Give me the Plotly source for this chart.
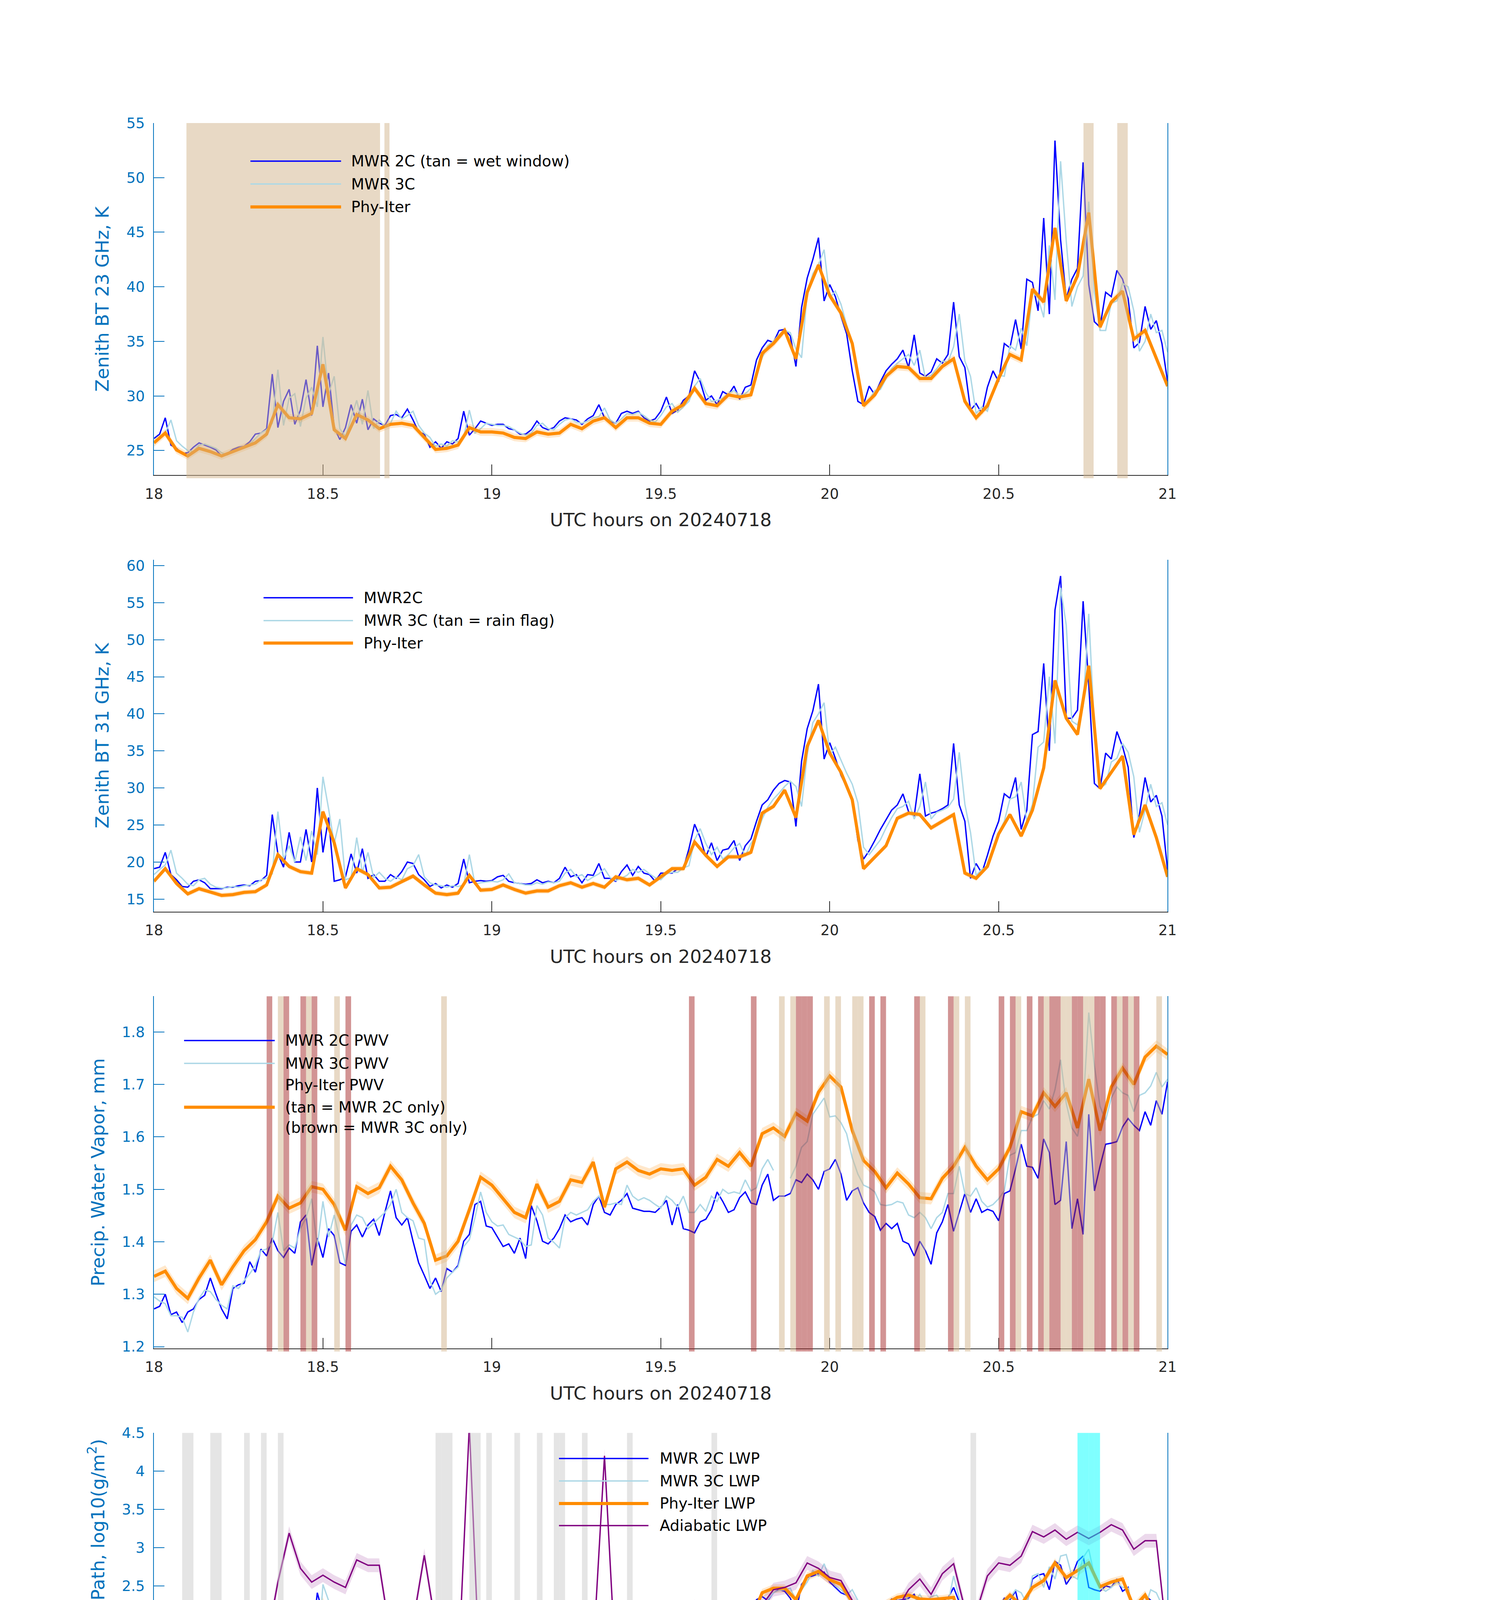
import plotly.graph_objects as go

FIG_W, FIG_H = 3825, 6000
FONT = "DejaVu Sans"
AX_BLUE = "#0072BD"
DARK = "#262626"
C2 = "#0000FF"
C3 = "#ADD8E6"
ORG = "#FF8C00"
PUR = "#800080"

# ---------------- time grids ----------------
minutes = list(range(181))
t_mwr = [18 + m / 60 for m in minutes]          # MWR samples (1 min)
t_phy = [18 + m / 60 for m in minutes[::2]]     # Phy-Iter samples (2 min)
flag_minutes = list(range(180))
t_flag = [18 + (m + 0.5) / 60 for m in flag_minutes]

x_ticks = [18, 18.5, 19, 19.5, 20, 20.5, 21]
x_ticktext = ["18", "18.5", "19", "19.5", "20", "20.5", "21"]
x_label = "UTC hours on 20240718"

# ---------------- Panel 1: 23 GHz BT ----------------
bt23_2c = [26.1, 26.5, 28.0, 25.5, 25.2, 24.7, 24.8, 25.3, 25.7, 25.5, 25.3,
           25.05, 24.5, 24.7, 25.1, 25.3, 25.4, 25.8, 26.5, 26.6, 27.0,
           32.0, 27.1, 29.5, 30.6, 27.4, 28.7, 31.5, 28.2, 34.6, 29.0,
           32.1, 27.1, 26.0, 27.1, 29.2, 27.5, 29.7, 26.9, 27.9, 27.5,
           27.3, 28.2, 28.3, 28.0, 28.8, 27.8, 26.7, 26.5, 25.3, 25.8,
           25.2, 25.8, 25.6, 26.1, 28.6, 26.4, 27.0, 27.7, 27.5, 27.3,
           27.4, 27.4, 27.0, 26.9, 26.5, 26.5, 26.9, 27.7, 27.1, 26.9,
           27.1, 27.7, 28.0, 27.9, 27.8, 27.4, 27.9, 28.2, 29.2, 28.0,
           27.7, 27.5, 28.4, 28.6, 28.4, 28.6, 28.0, 27.7, 27.9, 28.6,
           29.9, 28.4, 28.7, 29.6, 30.0, 32.3, 31.3, 29.6, 30.0, 29.2,
           30.4, 30.1, 30.9, 29.7, 30.8, 31.0, 33.3, 34.4, 35.1, 34.9,
           36.0, 36.1, 35.5, 32.7, 38.1, 40.8, 42.5, 44.5, 38.7, 40.2,
           39.1, 37.3, 35.7, 32.3, 29.5, 29.2, 30.9, 30.1, 31.3, 32.3,
           32.9, 33.4, 34.2, 32.6, 35.6, 32.1, 31.8, 32.2, 33.4, 33.0,
           33.8, 38.6, 33.6, 32.6, 28.7, 29.3, 28.4, 30.8, 32.3, 31.3,
           34.8, 34.4, 37.0, 34.3, 40.7, 40.4, 37.8, 46.3, 37.5, 53.4,
           44.3, 38.9, 40.7, 41.7, 51.4, 40.2, 36.8, 36.3, 39.5, 39.1,
           41.5, 40.7, 38.9, 34.4, 34.9, 38.2, 36.1, 36.9, 34.8, 31.3]
bt23_3c = [25.8, 26.2, 26.6, 27.8, 25.9, 25.4, 25.0, 24.9, 25.5, 25.6, 25.4,
           25.2, 24.8, 24.6, 24.9, 25.2, 25.4, 25.6, 26.1, 26.6, 26.9,
           27.5, 32.4, 27.3, 29.8, 30.2, 27.2, 29.8, 30.8, 29.0, 35.4,
           30.2, 31.8, 27.0, 26.3, 28.0, 29.6, 27.4, 30.5, 27.0, 27.8,
           27.2, 27.5, 28.6, 27.9, 28.2, 28.6, 27.3, 26.6, 26.2, 25.4,
           25.6, 25.4, 25.9, 25.8, 26.2, 28.7, 26.6, 27.0, 27.5, 27.4,
           27.3, 27.3, 27.2, 26.9, 26.6, 26.4, 26.6, 27.3, 27.5, 27.0,
           26.9, 27.4, 27.8, 27.9, 27.6, 27.5, 27.7, 28.0, 28.1, 28.9,
           27.8, 27.5, 27.9, 28.4, 28.3, 28.5, 28.2, 27.8, 27.6, 28.2,
           29.0, 29.3, 28.5, 29.0, 29.5, 30.9, 31.6, 30.3, 29.5, 29.6,
           29.8, 30.2, 30.5, 30.0, 30.2, 30.7, 32.0, 33.5, 34.6, 35.0,
           35.6, 36.0, 35.8, 34.3, 33.5, 39.5, 41.2, 42.0, 43.4, 39.0,
           39.6, 38.4, 36.5, 34.8, 31.5, 29.3, 29.6, 30.5, 30.6, 31.6,
           32.5, 33.0, 33.4, 33.8, 32.8, 34.2, 31.6, 31.9, 32.5, 33.2,
           33.1, 34.5, 37.5, 33.2, 31.8, 28.4, 29.0, 28.6, 30.5, 31.9,
           31.8, 34.6, 34.2, 36.2, 34.6, 39.5, 39.0, 37.2, 43.8, 38.8,
           51.5, 44.2, 38.2, 40.0, 41.0, 47.8, 39.5, 36.0, 36.0, 38.5,
           38.7, 40.3, 40.0, 37.8, 34.1, 35.0, 37.5, 35.8, 36.0, 34.0]
bt23_phy = [25.7, 26.6, 25.05, 24.5, 25.2, 24.9, 24.5, 24.9, 25.3, 25.7, 26.5,
            29.2, 28.0, 27.9, 28.4, 32.9, 26.9, 26.1, 28.3, 27.8, 27.0,
            27.4, 27.5, 27.3, 26.2, 25.1, 25.2, 25.5, 27.1, 26.7, 26.7,
            26.6, 26.2, 26.1, 26.7, 26.5, 26.6, 27.4, 27.0, 27.7, 28.0,
            27.1, 28.0, 28.0, 27.5, 27.4, 28.6, 29.2, 30.7, 29.3, 29.1,
            30.1, 29.9, 30.1, 33.9, 34.8, 36.0, 33.4, 39.5, 42.0, 39.2,
            37.6, 34.8, 29.1, 30.1, 31.8, 32.7, 32.6, 31.6, 31.6, 32.7,
            33.4, 29.5, 28.0, 29.1, 31.6, 33.8, 33.3, 39.8, 38.6, 45.4,
            38.7, 41.0, 46.8, 36.3, 38.6, 39.6, 35.2, 36.0, 33.4, 30.9]
bt23_phy_unc = 0.35
wet_window_start = [18.096, 18.682, 20.751, 20.851]
wet_window_end = [18.669, 18.697, 20.781, 20.882]

# ---------------- Panel 2: 31 GHz BT ----------------
bt31_2c = [19.1, 19.3, 21.3, 18.3, 17.6, 16.7, 16.6, 17.4, 17.6, 17.2, 16.4,
           16.4, 16.4, 16.6, 16.6, 16.8, 16.9, 16.8, 17.4, 17.5, 18.2,
           26.4, 21.1, 19.3, 24.0, 20.0, 20.0, 24.4, 20.0, 30.0, 21.3,
           26.0, 17.4, 17.6, 18.0, 21.1, 18.5, 21.8, 17.8, 18.3, 17.4,
           17.4, 18.3, 17.8, 18.7, 20.0, 19.8, 18.3, 17.6, 16.7, 17.1,
           16.5, 16.9, 16.6, 17.1, 20.4, 17.2, 17.4, 17.5, 17.4, 17.5,
           18.0, 18.2, 17.4, 17.2, 17.1, 17.0, 17.1, 17.6, 17.2, 17.4,
           17.2, 17.8, 19.3, 18.0, 18.3, 17.2, 18.3, 18.2, 19.8, 17.8,
           17.8, 17.4, 18.7, 19.6, 18.2, 19.4, 18.5, 18.3, 17.4, 18.5,
           18.5, 18.5, 19.1, 19.1, 21.8, 25.1, 23.3, 20.7, 22.6, 20.2,
           21.6, 21.8, 22.9, 20.2, 22.2, 23.1, 25.5, 27.7, 28.4, 29.7,
           30.6, 31.0, 30.8, 24.8, 33.6, 38.0, 40.4, 44.0, 33.9, 36.1,
           34.0, 31.7, 30.1, 28.4, 22.9, 20.4, 21.5, 22.9, 24.4, 25.7,
           27.0, 27.7, 29.2, 26.8, 26.2, 31.9, 26.2, 26.6, 26.8, 27.2,
           27.7, 36.0, 27.7, 25.5, 17.8, 19.8, 18.5, 20.9, 23.5, 25.5,
           29.2, 28.6, 31.4, 24.4, 27.0, 37.2, 37.6, 46.8, 35.0, 54.0,
           58.6, 39.4, 39.4, 40.5, 55.2, 43.9, 30.6, 29.9, 34.7, 33.9,
           37.6, 35.6, 32.8, 23.3, 26.4, 31.4, 28.1, 29.0, 26.2, 18.9]
bt31_3c = [18.3, 19.0, 19.6, 21.6, 18.5, 17.8, 17.0, 16.8, 17.6, 17.8, 17.0,
           16.6, 16.5, 16.5, 16.7, 16.6, 16.8, 16.9, 17.0, 17.6, 17.8,
           18.4, 26.8, 20.4, 22.2, 20.0, 23.4, 20.2, 24.2, 21.0, 31.5,
           27.2, 22.5, 25.8, 17.6, 17.9, 23.3, 18.6, 21.3, 17.9, 18.6,
           17.8, 17.4, 18.0, 17.6, 19.1, 19.5, 21.0, 18.0, 17.2, 16.9,
           16.8, 16.6, 16.8, 16.7, 16.9, 21.0, 17.0, 17.2, 17.3, 17.4,
           17.3, 17.6, 18.4, 17.2, 17.1, 16.9, 16.9, 17.2, 17.0, 17.3,
           17.2, 17.4, 18.5, 19.0, 18.0, 18.3, 17.5, 18.0, 18.4, 19.1,
           17.9, 17.5, 17.8, 18.2, 19.0, 18.6, 19.0, 18.4, 17.9, 17.6,
           18.4, 18.6, 18.6, 19.2, 19.5, 23.0, 24.5, 22.5, 21.0, 22.0,
           20.4, 21.0, 21.9, 22.5, 20.8, 22.5, 23.6, 25.8, 27.4, 28.5,
           29.3, 30.2, 30.9, 30.2, 27.5, 34.5, 38.8, 40.0, 41.5, 34.5,
           35.5, 33.8, 32.0, 30.5, 28.0, 22.0, 21.0, 22.0, 23.0, 24.6,
           26.0, 27.2, 27.5, 28.2, 25.8, 27.5, 30.8, 25.8, 26.7, 27.0,
           27.4, 28.5, 34.8, 27.8, 24.0, 18.2, 19.0, 19.4, 21.5, 24.0,
           25.5, 28.5, 28.8, 30.8, 25.5, 27.8, 35.5, 36.2, 45.0, 36.0,
           57.0, 52.0, 39.0, 38.5, 41.0, 53.5, 38.0, 30.0, 30.5, 33.5,
           34.0, 36.0, 34.8, 31.5, 24.0, 27.0, 30.5, 27.5, 28.0, 25.0]
bt31_phy = [17.4, 19.1, 17.1, 15.7, 16.4, 16.0, 15.5, 15.6, 15.9, 16.0, 16.9,
            21.0, 19.4, 18.7, 18.5, 26.8, 22.6, 16.5, 19.1, 18.3, 16.5,
            16.6, 17.4, 18.1, 16.9, 15.8, 15.6, 15.8, 18.2, 16.2, 16.3,
            16.9, 16.3, 15.8, 16.1, 16.1, 16.8, 17.2, 16.6, 17.1, 16.6,
            18.0, 17.6, 17.8, 16.9, 18.0, 19.1, 19.1, 22.7, 20.9, 19.4,
            20.7, 20.7, 21.3, 26.6, 27.5, 29.7, 26.0, 35.6, 39.1, 34.7,
            32.1, 28.4, 19.1, 20.7, 22.2, 25.9, 26.6, 26.4, 24.6, 25.5,
            26.4, 18.5, 17.8, 19.4, 23.8, 26.4, 23.5, 27.0, 32.7, 44.5,
            39.4, 37.2, 46.5, 29.9, 32.1, 34.3, 23.7, 27.7, 23.3, 18.0]
bt31_phy_unc = 0.35

# ---------------- Panel 3: PWV ----------------
pwv_2c = [1.272, 1.277, 1.300, 1.261, 1.266, 1.246, 1.266, 1.272, 1.290, 1.298, 1.331,
          1.300, 1.272, 1.253, 1.311, 1.318, 1.321, 1.362, 1.342, 1.386, 1.373,
          1.407, 1.383, 1.370, 1.388, 1.378, 1.438, 1.451, 1.355, 1.407, 1.370,
          1.425, 1.412, 1.360, 1.355, 1.420, 1.432, 1.409, 1.432, 1.443, 1.412,
          1.456, 1.497, 1.446, 1.432, 1.446, 1.401, 1.360, 1.336, 1.311, 1.331,
          1.305, 1.349, 1.342, 1.355, 1.401, 1.414, 1.471, 1.477, 1.430, 1.427,
          1.409, 1.391, 1.396, 1.378, 1.407, 1.368, 1.469, 1.440, 1.401, 1.396,
          1.407, 1.425, 1.451, 1.438, 1.443, 1.446, 1.432, 1.471, 1.487, 1.456,
          1.451, 1.471, 1.479, 1.492, 1.464, 1.461, 1.458, 1.458, 1.456, 1.466,
          1.479, 1.432, 1.471, 1.425, 1.422, 1.417, 1.438, 1.443, 1.461, 1.495,
          1.477, 1.456, 1.461, 1.484, 1.495, 1.474, 1.471, 1.508, 1.529, 1.479,
          1.487, 1.487, 1.492, 1.518, 1.513, 1.529, 1.518, 1.500, 1.534, 1.539,
          1.557, 1.529, 1.479, 1.497, 1.503, 1.474, 1.456, 1.448, 1.422, 1.435,
          1.425, 1.435, 1.401, 1.396, 1.373, 1.401, 1.383, 1.357, 1.417, 1.438,
          1.471, 1.420, 1.456, 1.492, 1.456, 1.482, 1.456, 1.462, 1.458, 1.440,
          1.492, 1.497, 1.539, 1.586, 1.544, 1.542, 1.521, 1.596, 1.570, 1.471,
          1.479, 1.591, 1.425, 1.482, 1.414, 1.643, 1.497, 1.544, 1.586, 1.588,
          1.591, 1.619, 1.635, 1.622, 1.612, 1.648, 1.622, 1.669, 1.643, 1.705]
pwv_3c = [1.295, 1.287, 1.282, 1.259, 1.259, 1.256, 1.228, 1.266, 1.292, 1.308, 1.305,
          1.290, 1.279, 1.272, 1.316, 1.311, 1.326, 1.339, 1.355, 1.383, 1.386,
          1.399, 1.456, 1.383, 1.394, 1.388, 1.425, 1.446, 1.482, 1.391, 1.477,
          1.409, 1.451, 1.404, 1.357, 1.432, 1.451, 1.446, 1.425, 1.435, 1.446,
          1.456, 1.471, 1.500, 1.456, 1.446, 1.440, 1.407, 1.404, 1.326, 1.300,
          1.308, 1.331, 1.342, 1.352, 1.391, 1.404, 1.446, 1.495, 1.456, 1.438,
          1.430, 1.432, 1.414, 1.409, 1.404, 1.391, 1.394, 1.469, 1.451, 1.407,
          1.399, 1.388, 1.446, 1.456, 1.451, 1.456, 1.461, 1.477, 1.487, 1.471,
          1.471, 1.474, 1.471, 1.508, 1.487, 1.479, 1.484, 1.479, 1.471, 1.464,
          1.487, 1.479, 1.466, 1.487, 1.456, 1.456, 1.471, 1.458, 1.487, 1.477,
          1.500, 1.492, 1.495, 1.492, 1.518, 1.497, 1.503, 1.539, 1.557, 1.536,
          None, None, 1.521, 1.544, 1.580, 1.591, 1.643, 1.658, 1.674, 1.638,
          1.640, 1.627, 1.606, 1.560, 1.529, 1.508, 1.503, 1.495, 1.471, 1.469,
          1.471, 1.477, 1.474, 1.451, 1.446, 1.456, 1.446, 1.425, 1.446, 1.456,
          1.492, 1.492, 1.544, 1.492, 1.487, 1.503, 1.477, 1.466, 1.471, 1.482,
          1.497, 1.565, 1.570, 1.612, 1.612, 1.638, 1.643, 1.669, 1.653, 1.690,
          1.747, 1.664, 1.617, 1.601, 1.658, 1.837, 1.736, 1.658, 1.632, 1.674,
          1.695, 1.684, 1.679, 1.648, 1.679, 1.684, 1.697, 1.723, 1.695, 1.710]
pwv_phy = [1.334, 1.344, 1.311, 1.292, 1.331, 1.365, 1.318, 1.352, 1.383, 1.404, 1.438,
           1.487, 1.464, 1.474, 1.505, 1.500, 1.471, 1.422, 1.505, 1.492, 1.503,
           1.544, 1.518, 1.474, 1.435, 1.365, 1.373, 1.401, 1.461, 1.523, 1.508,
           1.482, 1.456, 1.446, 1.510, 1.466, 1.477, 1.518, 1.513, 1.552, 1.466,
           1.539, 1.552, 1.536, 1.529, 1.539, 1.536, 1.539, 1.508, 1.523, 1.557,
           1.544, 1.570, 1.544, 1.606, 1.617, 1.601, 1.645, 1.630, 1.685, 1.716,
           1.695, 1.612, 1.555, 1.534, 1.503, 1.531, 1.510, 1.484, 1.482, 1.521,
           1.544, 1.580, 1.544, 1.518, 1.539, 1.580, 1.648, 1.640, 1.684, 1.658,
           1.684, 1.617, 1.710, 1.612, 1.695, 1.731, 1.700, 1.752, 1.773, 1.757]
pwv_phy_unc = 0.011
pwv_tan_minutes = [22, 27, 32, 51, 111, 113, 119, 121, 124, 125, 136, 142, 144,
                   153, 158, 161, 162, 165, 166, 171, 173, 178, 180]
pwv_brown_minutes = [20, 23, 26, 28, 34, 95, 106, 114, 115, 116, 127, 129, 135,
                     141, 150, 152, 155, 157, 159, 160, 163, 164, 167, 168, 170,
                     172, 174]

# ---------------- Panel 4: LWP ----------------
lwp_2c = [1.81, 1.84, 1.95, 1.70, 1.59, 1.42, 1.40, 1.59, 1.60, 1.49, 1.08,
          1.35, 1.36, 1.33, 1.31, 1.31, 1.36, 1.24, 1.25, 1.43, 1.49,
          2.27, 1.77, 1.99, 2.06, 1.91, 1.74, 2.18, 1.74, 2.41, 2.13,
          2.27, 1.54, 1.45, 1.52, 1.91, 1.56, 2.02, 1.45, 1.47, 1.31,
          1.24, 1.54, 1.43, 1.66, 1.79, 1.88, 1.74, 1.29, 1.56, 1.24,
          1.42, 1.20, 1.31, 1.45, 1.91, 1.34, 1.31, 1.29, 1.40, 1.38,
          1.34, 1.59, 1.38, 1.43, 1.29, 1.24, 1.13, 1.24, 1.17, 1.34,
          1.47, 1.50, 1.75, 1.43, 1.52, 1.40, 1.40, 1.43, 1.77, 1.40,
          1.42, 1.45, 1.66, 1.66, 1.70, 1.81, 1.74, 1.56, 1.58, 1.61,
          1.84, 1.65, 1.63, 1.97, 2.06, 2.25, 2.06, 1.97, 1.88, 1.91,
          1.97, 2.09, 2.07, 1.84, 2.04, 2.18, 2.32, 2.36, 2.31, 2.41,
          2.45, 2.43, 2.34, 2.15, 2.52, 2.61, 2.63, 2.66, 2.68, 2.55,
          2.48, 2.41, 2.38, 2.31, 1.84, 1.84, 1.99, 2.11, 2.15, 2.23,
          2.33, 2.31, 2.32, 2.34, 2.39, 2.22, 2.31, 2.29, 2.25, 2.31,
          2.34, 2.48, 2.29, 2.22, 1.29, 1.74, 1.70, 1.91, 2.16, 2.20,
          2.34, 2.32, 2.43, 2.13, 2.27, 2.59, 2.64, 2.66, 2.45, 2.82,
          2.77, 2.52, 2.63, 2.82, 2.89, 2.48, 2.45, 2.43, 2.50, 2.48,
          2.59, 2.43, 2.48, 2.02, 2.25, 2.38, 2.31, 2.29, 1.95, 1.24]
lwp_3c = [1.45, 1.70, 2.09, 1.80, 1.63, 1.45, 1.27, 1.49, 1.42, 1.38, 1.13,
          1.08, 1.02, 1.08, 1.10, 1.11, 1.13, 1.17, 1.24, 1.34, 1.49,
          1.84, 2.27, 1.95, 2.09, 1.66, 2.06, 1.63, 2.20, 1.49, 2.52,
          2.31, 1.99, 2.02, 1.50, 1.56, 2.16, 1.70, 2.02, 1.56, 1.45,
          1.10, 1.24, 1.45, 1.63, 1.72, 1.84, 1.99, 1.56, 1.34, 1.20,
          1.24, 1.06, 1.13, 1.24, 1.31, 1.95, 1.34, 1.26, 1.31, 1.34,
          1.38, 1.24, 1.52, 1.34, 1.20, 1.17, 1.10, 1.13, 1.24, 1.20,
          1.24, 1.45, 1.59, 1.49, 1.66, 1.45, 1.38, 1.56, 1.49, 1.77,
          1.70, 1.70, 1.63, 1.77, 1.74, 1.63, 1.70, 1.63, 1.49, 1.56,
          1.70, 1.95, 1.66, 1.90, 2.02, 2.08, 2.02, 1.84, 1.95, 1.66,
          1.99, 2.11, 2.06, 2.06, 1.99, 2.11, 2.20, 2.29, 2.32, 2.41,
          2.44, 2.45, 2.47, 2.31, 2.45, 2.55, 2.70, 2.63, 2.79, 2.59,
          2.50, 2.45, 2.38, 2.45, 2.31, 1.81, 1.93, 2.04, 2.16, 2.27,
          2.31, 2.34, 2.38, 2.31, 2.29, 2.39, 2.27, 2.36, 2.38, 2.27,
          2.27, 2.63, 2.34, 2.06, 1.49, 1.81, 1.63, 2.06, 2.16, 2.15,
          2.27, 2.34, 2.45, 2.41, 2.27, 2.63, 2.66, 2.48, 2.75, 2.59,
          2.89, 2.91, 2.63, 2.59, 2.87, 2.98, 2.63, 2.48, 2.43, 2.48,
          2.55, 2.48, 2.47, 2.13, 2.27, 2.22, 2.45, 2.41, 2.25, 2.25]
lwp_phy = [1.63, 1.86, 1.56, 1.04, 1.38, 0.60, None, None, None, 0.78, 1.34,
           2.00, 1.88, 1.75, 1.70, 2.30, 1.75, 1.10, 1.70, 1.49, 0.49,
           -0.3, 1.34, 1.59, 1.31, 0.67, -0.3, 1.20, 1.56, -0.3, 0.31,
           1.17, 0.67, None, None, 0.13, 1.20, 1.10, 0.38, 1.06, 1.42,
           -0.3, 1.34, 1.45, 1.00, 1.35, 1.66, 1.72, 2.09, 2.00, 1.82,
           1.97, 1.93, 2.06, 2.41, 2.47, 2.47, 2.32, 2.63, 2.69, 2.58,
           2.52, 2.29, 1.75, 2.06, 2.27, 2.35, 2.38, 2.33, 2.32, 2.33,
           2.35, 1.91, 1.49, 2.06, 2.23, 2.38, 2.25, 2.48, 2.57, 2.80,
           2.61, 2.70, 2.80, 2.49, 2.55, 2.59, 2.22, 2.38, 2.11, 1.30]
lwp_phy_lo = [1.40, 1.70, 1.30, -0.1, 0.60, -0.1, None, None, None, -0.1, 0.40,
              1.70, 1.60, 1.60, 1.50, 2.20, 1.50, -0.1, 1.30, 0.90, -0.1,
              -0.1, 0.30, 1.10, 0.60, -0.1, -0.1, 0.60, 0.90, -0.1, -0.1,
              0.20, -0.1, None, None, -0.1, 0.70, 0.80, -0.1, 0.30, 0.60,
              -0.1, 0.80, 1.00, -0.1, 1.10, 1.55, 1.62, 2.02, 1.93, 1.74,
              1.90, 1.86, 1.98, 2.35, 2.41, 2.41, 2.26, 2.57, 2.63, 2.52,
              2.46, 2.22, 1.62, 1.98, 2.20, 2.29, 2.32, 2.27, 2.26, 2.27,
              2.29, 1.84, 1.40, 1.99, 2.17, 2.32, 2.18, 2.42, 2.51, 2.73,
              2.55, 2.63, 2.73, 2.42, 2.49, 2.52, 2.14, 2.31, 2.03, 1.00]
lwp_phy_hi = [1.85, 1.95, 1.70, 1.10, 1.45, 0.75, None, None, None, 0.85, 1.45,
              2.05, 1.92, 1.80, 1.75, 2.35, 1.80, 1.15, 1.75, 1.55, 0.90,
              0.50, 1.45, 1.65, 1.35, 0.75, 0.30, 1.40, 1.60, 0.30, 0.80,
              1.25, 0.90, None, None, 0.60, 1.30, 1.20, 0.90, 1.20, 1.50,
              0.40, 1.50, 1.50, 1.30, 1.50, 1.72, 1.78, 2.15, 2.06, 1.88,
              2.03, 1.99, 2.12, 2.46, 2.52, 2.52, 2.37, 2.68, 2.74, 2.63,
              2.57, 2.34, 1.82, 2.12, 2.32, 2.40, 2.43, 2.38, 2.37, 2.38,
              2.40, 1.97, 1.56, 2.12, 2.28, 2.43, 2.30, 2.53, 2.62, 2.86,
              2.66, 2.76, 2.86, 2.54, 2.60, 2.64, 2.28, 2.44, 2.17, 1.45]
lwp_adiabatic = [1.56, 2.20, 1.36, 1.04, 1.61, 1.02, None, None, None, 1.18, 1.75,
                 2.55, 3.19, 2.73, 2.55, 2.64, 2.55, 2.48, 2.84, 2.77, 2.77,
                 1.84, 1.99, 2.02, 2.90, 1.99, 1.20, 1.34, 4.60, 1.02, 1.06,
                 1.70, 1.02, None, 1.24, 1.66, 1.38, 1.42, 1.38, 1.63, 4.20,
                 1.42, 2.02, 1.77, 1.45, 1.63, 2.04, 2.12, 2.23, 2.04, 1.90,
                 2.02, 2.00, 2.06, 2.25, 2.45, 2.48, 2.54, 2.80, 2.73, 2.61,
                 2.57, 2.31, 2.11, 1.99, 2.04, 2.20, 2.45, 2.59, 2.39, 2.66,
                 2.79, 2.20, 2.15, 2.63, 2.80, 2.77, 2.89, 3.21, 3.14, 3.23,
                 3.11, 3.20, 3.12, 3.20, 3.30, 3.23, 2.98, 3.09, 3.09, 1.75]
lwp_adiabatic_unc = 0.09
lwp_isolated_minute = [16]
lwp_isolated_phy = [0.33]
lwp_isolated_phy_lo = [-0.1]
lwp_isolated_phy_hi = [0.52]
lwp_isolated_adiabatic = [1.12]
lwp_isolated_adiabatic_lo = [0.52]
lwp_isolated_adiabatic_hi = [1.35]

# ---------------- Panel 5: DQ flag ----------------
dq_flag = [0, 0, 0, 0, 0, 4, 4, 0, 0, 0, 4, 4, 0, 0, 0, 0, 4, 0, 0, 4, 0, 0, 4, 0, 0, 0, 0, 0, 0, 0,
           0, 0, 0, 0, 0, 0, 0, 0, 0, 0, 0, 0, 0, 0, 0, 0, 0, 0, 0, 0, 4, 4, 4, 0, 0, 0, 4, 4, 0, 4,
           0, 0, 0, 0, 4, 0, 0, 0, 4, 0, 0, 4, 4, 0, 0, 0, 4, 0, 0, 0, 0, 0, 0, 0, 4, 0, 0, 0, 0, 0,
           0, 0, 0, 0, 0, 0, 0, 0, 0, 4, 0, 0, 0, 0, 0, 0, 0, 0, 0, 0, 0, 0, 0, 0, 0, 0, 0, 0, 0, 0,
           0, 0, 0, 0, 0, 0, 0, 0, 0, 0, 0, 0, 0, 0, 0, 0, 0, 0, 0, 0, 0, 0, 0, 0, 0, 4, 0, 0, 0, 0,
           0, 0, 0, 0, 0, 0, 0, 0, 0, 0, 0, 0, 0, 0, 11, 11, 11, 11, 0, 0, 0, 0, 0, 0, 0, 0, 0, 0, 0, 0]
dq_extra_minutes = [164, 165]
dq_extra_flag = [10, 10]

# ---------------- layout geometry ----------------
PX_L, PX_R = 375, 3003
PANEL_TOP0, PANEL_STEP, PANEL_H = 296, 1125, 907
PANEL_SLOT = [0, 1, 2, 3, 4]   # vertical slot of each panel (top = 0)


def panel_top(i):
    return PANEL_TOP0 + PANEL_STEP * PANEL_SLOT[i]


def dom_y(i):
    top = panel_top(i)
    return [1 - (top + PANEL_H) / FIG_H, 1 - top / FIG_H]


def px(x):
    return x / FIG_W


def py(y):
    return 1 - y / FIG_H


fig = go.Figure()


def axn(i):
    return "" if i == 1 else str(i)


def add_line(i, x, y, color, width):
    fig.add_trace(go.Scatter(x=x, y=y, mode="lines", line=dict(color=color, width=width),
                             xaxis="x" + axn(i), yaxis="y" + axn(i), showlegend=False,
                             connectgaps=False, hoverinfo="skip"))


def add_band(i, x, lo, hi, color):
    xs, ys, run = [], [], []
    for xi, l, h in zip(x, lo, hi):
        if l is None or h is None:
            if run:
                xs += [p[0] for p in run] + [p[0] for p in reversed(run)] + [None]
                ys += [p[2] for p in run] + [p[1] for p in reversed(run)] + [None]
                run = []
        else:
            run.append((xi, l, h))
    if run:
        xs += [p[0] for p in run] + [p[0] for p in reversed(run)]
        ys += [p[2] for p in run] + [p[1] for p in reversed(run)]
    fig.add_trace(go.Scatter(x=xs, y=ys, mode="lines", fill="toself", fillcolor=color,
                             line=dict(width=0, color=color), xaxis="x" + axn(i),
                             yaxis="y" + axn(i), showlegend=False, hoverinfo="skip"))


def band_from_unc(vals, unc):
    lo = [None if v is None else v - unc for v in vals]
    hi = [None if v is None else v + unc for v in vals]
    return lo, hi


ORG_BAND = "rgba(255,140,0,0.2)"
PUR_BAND = "rgba(128,0,128,0.15)"

# Panel 1
add_line(1, t_mwr, bt23_2c, C2, 3.5)
add_line(1, t_mwr, bt23_3c, C3, 3.5)
lo, hi = band_from_unc(bt23_phy, bt23_phy_unc)
add_band(1, t_phy, lo, hi, ORG_BAND)
add_line(1, t_phy, bt23_phy, ORG, 8)

# Panel 2
add_line(2, t_mwr, bt31_2c, C2, 3.5)
add_line(2, t_mwr, bt31_3c, C3, 3.5)
lo, hi = band_from_unc(bt31_phy, bt31_phy_unc)
add_band(2, t_phy, lo, hi, ORG_BAND)
add_line(2, t_phy, bt31_phy, ORG, 8)

# Panel 3
add_line(3, t_mwr, pwv_2c, C2, 3.5)
add_line(3, t_mwr, pwv_3c, C3, 3.5)
lo, hi = band_from_unc(pwv_phy, pwv_phy_unc)
add_band(3, t_phy, lo, hi, ORG_BAND)
add_line(3, t_phy, pwv_phy, ORG, 8)

# Panel 4
add_line(4, t_mwr, lwp_2c, C2, 3.5)
add_line(4, t_mwr, lwp_3c, C3, 3.5)
add_band(4, t_phy, lwp_phy_lo, lwp_phy_hi, ORG_BAND)
alo, ahi = band_from_unc(lwp_adiabatic, lwp_adiabatic_unc)
add_band(4, t_phy, alo, ahi, PUR_BAND)
iso_x = []
for m in lwp_isolated_minute:
    iso_x += [18 + (m + 0.0) / 60, 18 + (m + 1.0) / 60]
add_band(4, iso_x, lwp_isolated_phy_lo * 2, lwp_isolated_phy_hi * 2, ORG_BAND)
add_band(4, iso_x, lwp_isolated_adiabatic_lo * 2, lwp_isolated_adiabatic_hi * 2, PUR_BAND)
add_line(4, t_phy, lwp_phy, ORG, 8)
add_line(4, t_phy, lwp_adiabatic, PUR, 3.5)
iso_t = [18 + (m + 0.5) / 60 for m in lwp_isolated_minute]
fig.add_trace(go.Scatter(x=iso_t, y=lwp_isolated_phy, mode="markers",
                         marker=dict(symbol="x", size=16, color=ORG), xaxis="x4", yaxis="y4",
                         showlegend=False, hoverinfo="skip"))
fig.add_trace(go.Scatter(x=iso_t, y=lwp_isolated_adiabatic, mode="markers",
                         marker=dict(symbol="x", size=16, color=PUR), xaxis="x4", yaxis="y4",
                         showlegend=False, hoverinfo="skip"))

# Panel 5
fig.add_trace(go.Scatter(x=t_flag, y=dq_flag, mode="markers",
                         marker=dict(size=8, color=ORG, line=dict(width=0)),
                         xaxis="x5", yaxis="y5", showlegend=False, hoverinfo="skip"))
fig.add_trace(go.Scatter(x=[18 + (m + 0.5) / 60 for m in dq_extra_minutes], y=dq_extra_flag,
                         mode="markers", marker=dict(size=8, color=ORG, line=dict(width=0)),
                         xaxis="x5", yaxis="y5", showlegend=False, hoverinfo="skip"))

# ---------------- shaded flag bars ----------------
shapes = []
TAN = "rgba(210,180,140,0.5)"
BROWN = "rgba(165,42,42,0.5)"
GRAY = "rgba(204,204,204,0.5)"
CYAN = "rgba(0,255,255,0.5)"


def vbar(i, x0, x1, color, y0=-0.009):
    shapes.append(dict(type="rect", xref="x" + axn(i), yref="y" + axn(i) + " domain",
                       x0=x0, x1=x1, y0=y0, y1=1, fillcolor=color, line=dict(width=0),
                       layer="above"))


for a, b in zip(wet_window_start, wet_window_end):
    vbar(1, a, b, TAN)
for m in pwv_tan_minutes:
    vbar(3, 18 + m / 60, 18 + (m + 1) / 60, TAN)
for m in pwv_brown_minutes:
    vbar(3, 18 + m / 60, 18 + (m + 1) / 60, BROWN)
for m, f in zip(flag_minutes, dq_flag):
    if f == 4:
        vbar(4, 18 + m / 60, 18 + (m + 1) / 60, GRAY, 0)
    elif f >= 10:
        vbar(4, 18 + m / 60, 18 + (m + 1) / 60, CYAN, 0)

# ---------------- manual legends (offsets from panel top, px) ----------------
annotations = []
LEG_FS = 39


def leg_line(p, x0, x1, dy, color, width):
    y = panel_top(p - 1) + dy
    shapes.append(dict(type="line", xref="paper", yref="paper", x0=px(x0), x1=px(x1),
                       y0=py(y), y1=py(y), line=dict(color=color, width=width)))


def leg_text(p, x, dy, text):
    y = panel_top(p - 1) + dy
    annotations.append(dict(xref="paper", yref="paper", x=px(x), y=py(y), text=text,
                            showarrow=False, xanchor="left", yanchor="middle",
                            font=dict(family=FONT, size=LEG_FS, color="black")))


leg_line(1, 625, 860, 98, C2, 3.5); leg_text(1, 884, 98, "MWR 2C (tan = wet window)")
leg_line(1, 625, 860, 157, C3, 3.5); leg_text(1, 884, 157, "MWR 3C")
leg_line(1, 625, 860, 216, ORG, 8); leg_text(1, 884, 216, "Phy-Iter")

leg_line(2, 659, 891, 98, C2, 3.5); leg_text(2, 916, 98, "MWR2C")
leg_line(2, 659, 891, 157, C3, 3.5); leg_text(2, 916, 157, "MWR 3C (tan = rain flag)")
leg_line(2, 659, 891, 215, ORG, 8); leg_text(2, 916, 215, "Phy-Iter")

leg_line(3, 453, 688, 114, C2, 3.5); leg_text(3, 713, 114, "MWR 2C PWV")
leg_line(3, 453, 688, 173, C3, 3.5); leg_text(3, 713, 173, "MWR 3C PWV")
leg_line(3, 453, 688, 286, ORG, 8)
leg_text(3, 713, 229, "Phy-Iter PWV")
leg_text(3, 713, 286, "(tan = MWR 2C only)")
leg_text(3, 713, 338, "(brown = MWR 3C only)")

leg_line(4, 1425, 1657, 66, C2, 3.5); leg_text(4, 1684, 66, "MWR 2C LWP")
leg_line(4, 1425, 1657, 124, C3, 3.5); leg_text(4, 1684, 124, "MWR 3C LWP")
leg_line(4, 1425, 1657, 182, ORG, 8); leg_text(4, 1684, 182, "Phy-Iter LWP")
leg_line(4, 1425, 1657, 239, PUR, 3.5); leg_text(4, 1684, 239, "Adiabatic LWP")

# ---------------- axes ----------------
y_specs = [
    ("Zenith BT 23 GHz, K", [22.75, 55.0], [25, 30, 35, 40, 45, 50, 55], None),
    ("Zenith BT 31 GHz, K", [13.3, 60.8], [15, 20, 25, 30, 35, 40, 45, 50, 55, 60], None),
    ("Precip. Water Vapor, mm", [1.197, 1.868], [1.2, 1.3, 1.4, 1.5, 1.6, 1.7, 1.8],
     ["1.2", "1.3", "1.4", "1.5", "1.6", "1.7", "1.8"]),
    ("log10 Liquid Water Path, log10(g/m<sup>2</sup>)", [-0.1, 4.5],
     [0, 0.5, 1, 1.5, 2, 2.5, 3, 3.5, 4, 4.5],
     ["0", "0.5", "1", "1.5", "2", "2.5", "3", "3.5", "4", "4.5"]),
    ("MWR Phy Iter DQ Flag", [-0.5, 11.5], [0, 2, 4, 6, 8, 10], None),
]

layout = dict(width=FIG_W, height=FIG_H, autosize=False, paper_bgcolor="white",
              plot_bgcolor="white", margin=dict(l=0, r=0, t=0, b=0, pad=0), showlegend=False,
              font=dict(family=FONT, color=DARK), shapes=shapes, annotations=annotations)

for idx, (ylab, yr, yt, ytt) in enumerate(y_specs):
    i = idx + 1
    layout["xaxis" + axn(i)] = dict(
        domain=[px(PX_L), px(PX_R)], range=[18, 21], anchor="y" + axn(i),
        tickvals=x_ticks, ticktext=x_ticktext, ticks="inside", ticklen=27, tickwidth=2,
        tickcolor=DARK, showline=True, linecolor=DARK, linewidth=2, mirror=False,
        showgrid=False, zeroline=False, tickfont=dict(family=FONT, size=37, color=DARK),
        ticklabelstandoff=14,
        title=dict(text=x_label, font=dict(family=FONT, size=47, color=DARK), standoff=30))
    yax = dict(
        domain=dom_y(idx), range=yr, anchor="x" + axn(i), tickvals=yt,
        ticks="inside", ticklen=27, tickwidth=2, tickcolor=AX_BLUE, showline=True,
        linecolor=AX_BLUE, linewidth=2, mirror=True, showgrid=False, zeroline=False,
        tickfont=dict(family=FONT, size=37, color=AX_BLUE), ticklabelstandoff=14,
        title=dict(text=ylab, font=dict(family=FONT, size=47, color=AX_BLUE), standoff=30))
    if ytt is not None:
        yax["ticktext"] = ytt
    layout["yaxis" + axn(i)] = yax

fig.update_layout(**layout)
fig.write_html("out.html", config={"displayModeBar": False},
               post_script="document.body.style.margin='0';document.body.style.padding='0';")
